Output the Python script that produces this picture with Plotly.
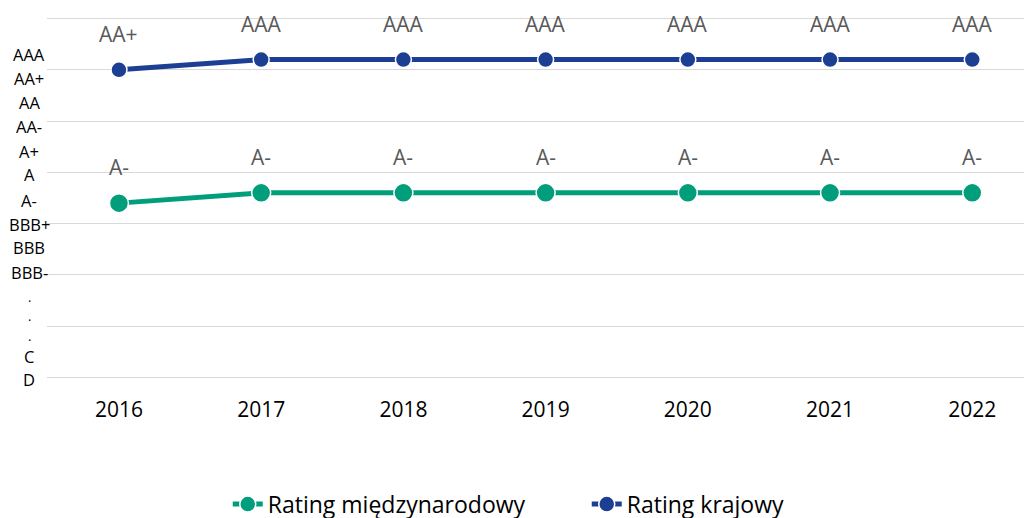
import plotly.graph_objects as go

years = ["2016", "2017", "2018", "2019", "2020", "2021", "2022"]
intl_values = [3.4, 3.6, 3.6, 3.6, 3.6, 3.6, 3.6]
intl_labels = ["A-", "A-", "A-", "A-", "A-", "A-", "A-"]
dom_values = [6.0, 6.2, 6.2, 6.2, 6.2, 6.2, 6.2]
dom_labels = ["AA+", "AAA", "AAA", "AAA", "AAA", "AAA", "AAA"]
scale_labels = ["AAA", "AA+", "AA", "AA-", "A+", "A", "A-", "BBB+", "BBB", "BBB-", ".", ".", ".", "C", "D"]
scale_positions = [6.30, 5.83, 5.37, 4.90, 4.40, 3.95, 3.46, 2.99, 2.53, 2.04, 1.56, 1.19, 0.80, 0.41, -0.04]

GREEN = "#009e7b"
BLUE = "#1c3f94"
FONT = "Open Sans"

fig = go.Figure()
fig.add_trace(go.Scatter(
    x=years, y=intl_values, name="Rating międzynarodowy", mode="lines+markers",
    line=dict(color=GREEN, width=5),
    marker=dict(size=19, color=GREEN, line=dict(color="white", width=1.5)),
))
fig.add_trace(go.Scatter(
    x=years, y=dom_values, name="Rating krajowy", mode="lines+markers",
    line=dict(color=BLUE, width=5),
    marker=dict(size=16, color=BLUE, line=dict(color="white", width=1.5)),
))

annotations = []
for ys, labels in ((intl_values, intl_labels), (dom_values, dom_labels)):
    for i, (y, t) in enumerate(zip(ys, labels)):
        annotations.append(dict(x=i, y=y, xref="x", yref="y", text=t, showarrow=False,
                                yanchor="middle", yshift=36,
                                font=dict(family=FONT, size=21, color="#595959")))
for t, p in zip(scale_labels, scale_positions):
    size = 13 if t == "." else 16.5
    annotations.append(dict(x=-0.01827, y=p, xref="paper", yref="y", text=t, showarrow=False,
                            xanchor="center", yanchor="middle", borderpad=0,
                            font=dict(family=FONT, size=size, color="#000000")))

fig.update_layout(
    width=1032, height=518,
    margin=dict(l=39, r=8, t=8.4, b=145.7, autoexpand=False),
    paper_bgcolor="white", plot_bgcolor="white",
    font=dict(family=FONT, color="#000000"),
    showlegend=True,
    legend=dict(orientation="h", x=0.1835, xanchor="left", y=-0.341, yanchor="middle",
                font=dict(family=FONT, size=23, color="#000000"),
                entrywidth=314, entrywidthmode="pixels"),
    annotations=annotations,
)
fig.update_xaxes(type="category", range=[-0.506, 6.42], showgrid=False, zeroline=False,
                 showline=False, ticks="", ticklabelstandoff=15,
                 tickfont=dict(family=FONT, size=21, color="#000000"))
fig.update_yaxes(range=[-0.05, 7.05], dtick=1, tick0=0, showgrid=True, gridcolor="#d9d9d9",
                 gridwidth=1.3, zeroline=False, showline=False, showticklabels=False, ticks="")

fig.write_html("out.html")
